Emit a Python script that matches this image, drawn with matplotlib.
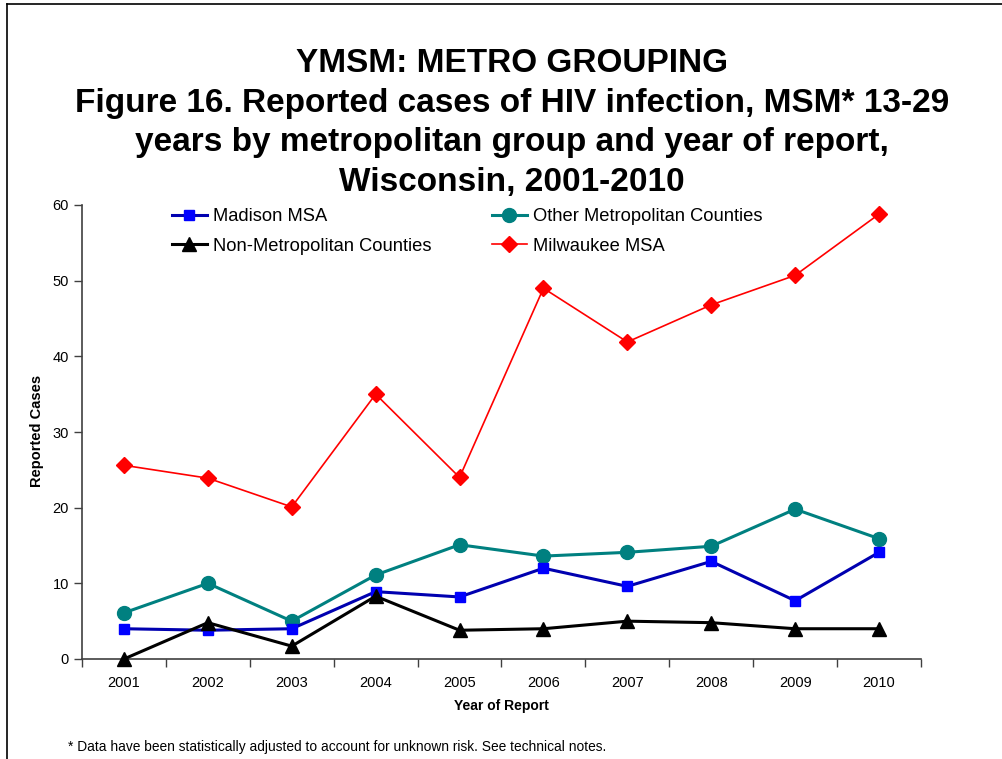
import matplotlib
matplotlib.use("Agg")
import matplotlib.pyplot as plt
from matplotlib.lines import Line2D

plt.rcParams['font.family'] = ['Liberation Sans', 'DejaVu Sans']

years = ['2001', '2002', '2003', '2004', '2005', '2006', '2007', '2008', '2009', '2010']
madison = [4.0, 3.8, 4.0, 8.9, 8.2, 12.0, 9.6, 12.9, 7.7, 14.1]
other_metro = [6.1, 10.0, 5.0, 11.1, 15.1, 13.6, 14.1, 14.9, 19.8, 15.9]
non_metro = [0.0, 4.8, 1.7, 8.3, 3.8, 4.0, 5.0, 4.8, 4.0, 4.0]
milwaukee = [25.6, 23.9, 20.1, 35.0, 24.0, 49.0, 41.9, 46.8, 50.7, 58.8]

W, H = 1003, 759
fig = plt.figure(figsize=(W / 100, H / 100), dpi=100)

# outer border (left and top only visible)
fig.add_artist(Line2D([7 / W, 7 / W], [0, 1 - 4 / H], transform=fig.transFigure, color='black', lw=1.2))
fig.add_artist(Line2D([7 / W, 1], [1 - 4 / H, 1 - 4 / H], transform=fig.transFigure, color='black', lw=1.2))

ax = fig.add_axes([82 / W, (H - 659) / H, (921 - 82) / W, (659 - 205) / H])
x = list(range(1, len(years) + 1))

ax.plot(x, milwaukee, color='#FF0000', lw=1.2, marker='D', ms=8, mfc='#FF0000', mec='#FF0000', label='Milwaukee MSA', zorder=3)
ax.plot(x, other_metro, color='#008080', lw=2.2, marker='o', ms=10, mfc='#008080', mec='#008080', label='Other Metropolitan Counties', zorder=3)
ax.plot(x, madison, color='#0000B0', lw=2.2, marker='s', ms=7.5, mfc='#0000FF', mec='#0000FF', label='Madison MSA', zorder=4)
ax.plot(x, non_metro, color='#000000', lw=2.2, marker='^', ms=10, mfc='#000000', mec='#000000', label='Non-Metropolitan Counties', zorder=5)

ax.set_xlim(0.5, len(years) + 0.5)
ax.set_ylim(0, 60)
ax.set_yticks(range(0, 61, 10))
ax.set_xticks([i + 0.5 for i in range(0, len(years) + 1)])
ax.set_xticklabels([])
ax.set_xticks(x, minor=True)
ax.set_xticklabels(years, minor=True)
ax.tick_params(axis='x', which='major', direction='out', length=6, width=1, color='#404040')
ax.tick_params(axis='x', which='minor', length=0, pad=12, labelsize=10.5)
ax.tick_params(axis='y', direction='out', length=6, width=1, color='#404040', labelsize=10.5, pad=3.5)
for s in ['top', 'right']:
    ax.spines[s].set_visible(False)
for s in ['left', 'bottom']:
    ax.spines[s].set_color('#404040')
    ax.spines[s].set_linewidth(1.2)
for ln in ax.lines:
    ln.set_clip_on(False)

fig.text(37 / W, 1 - 487 / H, 'Reported Cases', rotation=90, ha='center', va='bottom',
         fontsize=10.5, fontweight='bold')
ax.set_xlabel('Year of Report', fontsize=10, fontweight='bold', labelpad=7)

title = ('YMSM: METRO GROUPING\n'
         'Figure 16. Reported cases of HIV infection, MSM* 13-29\n'
         'years by metropolitan group and year of report,\n'
         'Wisconsin, 2001-2010')
fig.text(512 / W, 1 - 48 / H, title, ha='center', va='top', fontsize=24, fontweight='bold', linespacing=1.36)

handles_by_label = {ln.get_label(): ln for ln in ax.lines}
order = ['Madison MSA', 'Non-Metropolitan Counties', 'Other Metropolitan Counties', 'Milwaukee MSA']
fig.legend([handles_by_label[k] for k in order], order, ncol=2, frameon=False,
           loc='upper left', bbox_to_anchor=(172 / W, 1 - 208 / H),
           fontsize=13.2, handlelength=1.9, handletextpad=0.33, columnspacing=3.3,
           labelspacing=0.69, borderaxespad=0, borderpad=0)

fig.text(68 / W, 1 - 747 / H, '* Data have been statistically adjusted to account for unknown risk. See technical notes.',
         ha='left', va='center', fontsize=9.9)

fig.savefig('out.png', dpi=100)
